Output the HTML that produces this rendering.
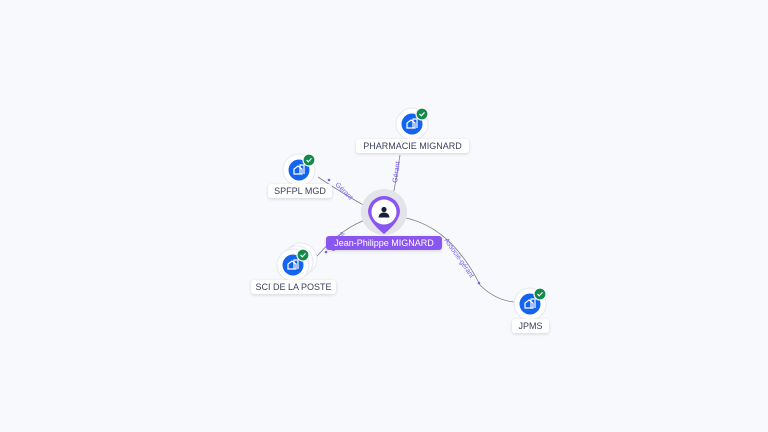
<!DOCTYPE html>
<html><head><style>
body{margin:0;background:#f8f9fc;width:768px;height:432px;overflow:hidden;font-family:"Liberation Sans",sans-serif;}
.lbl{position:absolute;background:#fff;border-radius:3px;box-shadow:0 1px 3px rgba(0,0,0,.15);font-size:9px;color:#3a3f5c;text-align:center;line-height:14px;}
</style></head><body>
<svg width="768" height="432" style="position:absolute;left:0;top:0">
<defs>
<g id="co">
<circle r="16" fill="#fff" stroke="#e6e8ef" stroke-width="1"/>
<circle r="10.5" fill="#1464f0"/>
<path d="M-5 4 V-1 L-1 -4 L3 -1 V4 Z M1 4 V-5 H5 V4" fill="none" stroke="#fff" stroke-width="1.2"/>
<circle cx="10" cy="-10" r="6" fill="#138a4a" stroke="#fff" stroke-width="1.2"/>
<path d="M7.5 -10 L9.3 -8.2 L12.5 -11.6" fill="none" stroke="#fff" stroke-width="1.2"/>
</g>
</defs>
<g fill="none" stroke="#7a7e90" stroke-width="0.8">
<path d="M393 196 Q397 175 400 155"/>
<path d="M367 207 Q345 195 318 177"/>
<path d="M368 219 Q340 228 312 262"/>
<path d="M401 217 Q450 225 480 285 Q495 300 514 302"/>
</g>
<g font-family="Liberation Sans" font-size="7" fill="#7a5cf0">
<text transform="translate(397,183) rotate(-82)">Gérant</text>
<text transform="translate(335,185) rotate(45)">Gérant</text>
<text transform="translate(334,252) rotate(-60)">Gérant</text>
<text transform="translate(444,240) rotate(55)">Associé-gérant</text>
</g>
<g fill="#7a5cf0"><circle cx="329" cy="180" r="1.3"/><circle cx="326" cy="252" r="1.3"/><circle cx="479" cy="283" r="1.3"/></g>
<circle cx="384" cy="212" r="23" fill="#e3e4ea"/>
<path d="M368 212 A16 16 0 1 1 400 212 Q399 222 384 234 Q369 222 368 212Z" fill="#8a56f0"/>
<circle cx="384" cy="212" r="12.5" fill="#fff"/>
<circle cx="384" cy="209.5" r="2.6" fill="#1a1f3a"/>
<path d="M378.5 217.5 Q379 212.5 384 212.5 Q389 212.5 389.5 217.5Z" fill="#1a1f3a"/>
<use href="#co" x="412" y="124"/>
<use href="#co" x="299" y="170"/>
<circle cx="301" cy="259" r="16" fill="#fff" stroke="#e6e8ef"/>
<circle cx="297" cy="262" r="16" fill="#fff" stroke="#e6e8ef"/>
<use href="#co" x="293" y="265"/>
<use href="#co" x="530" y="304"/>
</svg>
<div class="lbl" style="left:326px;top:236px;width:116px;background:#8a56f0;color:#fff;">Jean-Philippe MIGNARD</div>
<div class="lbl" style="left:356px;top:139px;width:113px;">PHARMACIE MIGNARD</div>
<div class="lbl" style="left:268px;top:184px;width:64px;">SPFPL MGD</div>
<div class="lbl" style="left:251px;top:280px;width:85px;">SCI DE LA POSTE</div>
<div class="lbl" style="left:512px;top:319px;width:37px;">JPMS</div>
</body></html>
